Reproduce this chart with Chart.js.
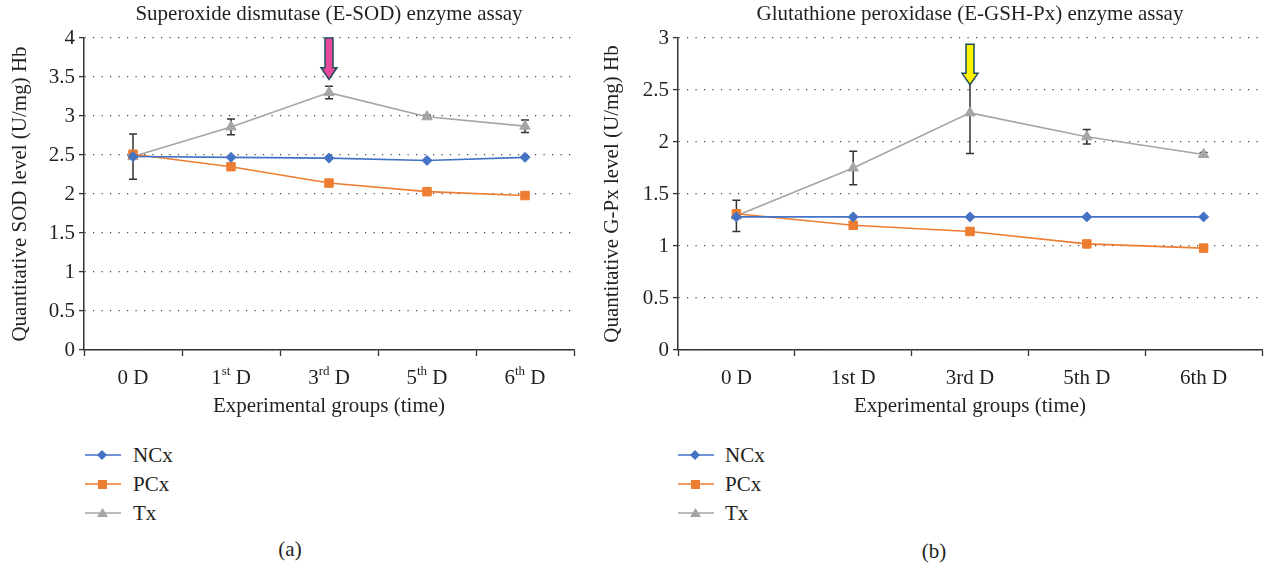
<!DOCTYPE html>
<html><head><meta charset="utf-8">
<script src="https://cdn.jsdelivr.net/npm/chart.js@4.4.1/dist/chart.umd.min.js"></script>
<style>
html,body{margin:0;padding:0;background:#fff;}
body{width:1269px;height:565px;position:relative;overflow:hidden;font-family:"Liberation Serif","DejaVu Serif",serif;color:#231f20;}
canvas{position:absolute;top:0;}
.lg{position:absolute;font-size:21px;line-height:24px;white-space:nowrap;}
.lg svg{position:absolute;top:5px;}
.lg span{position:absolute;top:0;}
.pn{position:absolute;font-size:21px;line-height:24px;transform:translateX(-50%);}
</style></head><body>
<canvas id="cA" width="600" height="430" style="left:0"></canvas>
<canvas id="cB" width="669" height="430" style="left:600px"></canvas>
<div id="legA"></div><div id="legB"></div>
<div class="pn" style="left:290px;top:537px">(a)</div>
<div class="pn" style="left:934px;top:539px">(b)</div>
<script>
// ---------- data ----------
const categories = ['0 D', '1st D', '3rd D', '5th D', '6th D'];
const seriesNames = ['NCx', 'PCx', 'Tx'];

// (a) Superoxide dismutase
const titleA = 'Superoxide dismutase (E-SOD) enzyme assay';
const yTitleA = 'Quantitative SOD level (U/mg) Hb';
const sodNCx = [2.48, 2.47, 2.46, 2.43, 2.47];
const sodPCx = [2.51, 2.35, 2.14, 2.03, 1.98];
const sodTx  = [2.48, 2.86, 3.30, 2.99, 2.87];
const sodTxErr = [0.29, 0.10, 0.08, 0.02, 0.08];
const sodArrow = {cat: 2, from: 4.0, head: 3.62, tip: 3.47};

// (b) Glutathione peroxidase
const titleB = 'Glutathione peroxidase (E-GSH-Px) enzyme assay';
const yTitleB = 'Quantitative G-Px level (U/mg) Hb';
const gpxNCx = [1.28, 1.28, 1.28, 1.28, 1.28];
const gpxPCx = [1.31, 1.20, 1.14, 1.02, 0.98];
const gpxTx  = [1.29, 1.75, 2.28, 2.05, 1.88];
const gpxTxErr = [0.15, 0.16, 0.39, 0.07, 0.02];
const gpxArrow = {cat: 2, from: 2.94, head: 2.66, tip: 2.55};

const xTitle = 'Experimental groups (time)';
// ---------- styles ----------
const colors = ['#4472C4', '#ED7D31', '#A5A5A5'];
const shapes = ['rectRot', 'rect', 'triangle'];
const radii = [5, 6, 6];
const FONT = '"Liberation Serif", "DejaVu Serif", serif';
const FS = 21;
const TXT = '#231f20';

const overlay = {
  id: 'overlay',
  beforeDatasetsDraw(chart, args, o) {
    const {ctx, scales: {x, y}} = chart;
    const data = chart.data.datasets[2].data;
    ctx.save();
    ctx.strokeStyle = '#333';
    ctx.lineWidth = 1.5;
    data.forEach((v, i) => {
      const e = o.err[i];
      if (!e) return;
      const px = x.getPixelForValue(i);
      const t = y.getPixelForValue(v + e), b = y.getPixelForValue(v - e);
      ctx.beginPath();
      ctx.moveTo(px, t); ctx.lineTo(px, b);
      ctx.moveTo(px - 4, t); ctx.lineTo(px + 4, t);
      ctx.moveTo(px - 4, b); ctx.lineTo(px + 4, b);
      ctx.stroke();
    });
    ctx.restore();
  },
  afterDatasetsDraw(chart, args, o) {
    const {ctx, scales: {x, y}} = chart;
    const a = o.arrow;
    const cx = x.getPixelForValue(a.cat);
    const y0 = y.getPixelForValue(a.from), yh = y.getPixelForValue(a.head), yt = y.getPixelForValue(a.tip);
    const s = o.shaft, h = o.headW;
    ctx.save();
    ctx.beginPath();
    ctx.moveTo(cx - s, y0); ctx.lineTo(cx + s, y0); ctx.lineTo(cx + s, yh);
    ctx.lineTo(cx + h, yh); ctx.lineTo(cx, yt); ctx.lineTo(cx - h, yh);
    ctx.lineTo(cx - s, yh); ctx.closePath();
    ctx.fillStyle = o.fill; ctx.fill();
    ctx.strokeStyle = '#1e4d5c'; ctx.lineWidth = 1.5; ctx.lineJoin = 'miter';
    ctx.stroke();
    ctx.restore();
  },
  afterDraw(chart, args, o) {
    const {ctx, chartArea, scales: {x}} = chart;
    ctx.save();
    ctx.fillStyle = TXT;
    ctx.textBaseline = 'middle';
    ctx.textAlign = 'center';
    ctx.font = FS + 'px ' + FONT;
    ctx.fillText(o.title, (chartArea.left + chartArea.right) / 2, 14);
    // x tick labels
    ctx.textAlign = 'left';
    chart.data.labels.forEach((lab, i) => {
      const px = x.getPixelForValue(i);
      const py = 378;
      const m = o.sup ? lab.match(/^(\d+)(st|nd|rd|th)(\s.*)$/) : null;
      let parts = m ? [[m[1], FS, 0], [m[2], 13, -6], [m[3], FS, 0]] : [[lab, FS, 0]];
      let w = 0;
      parts.forEach(p => { ctx.font = p[1] + 'px ' + FONT; p.push(ctx.measureText(p[0]).width); w += p[3]; });
      let cur = px - w / 2;
      parts.forEach(p => { ctx.font = p[1] + 'px ' + FONT; ctx.fillText(p[0], cur, py + p[2]); cur += p[3]; });
    });
    ctx.restore();
  }
};

function makeChart(id, vals, cfg) {
  const datasets = vals.map((d, i) => ({
    label: seriesNames[i], data: d,
    borderColor: colors[i], backgroundColor: colors[i],
    borderWidth: 1.6, pointStyle: shapes[i], pointRadius: radii[i],
    pointBorderWidth: 1, pointBorderColor: colors[i], tension: 0
  }));
  return new Chart(document.getElementById(id), {
    type: 'line',
    data: {labels: categories, datasets},
    options: {
      responsive: false, animation: false,
      layout: {padding: {left: 0, right: cfg.padRight, top: 38, bottom: 0}},
      plugins: {
        legend: {display: false}, tooltip: {enabled: false}, title: {display: false},
        overlay: {title: cfg.title, err: cfg.err, arrow: cfg.arrow, fill: cfg.fill, shaft: 4, headW: 8, sup: cfg.sup}
      },
      scales: {
        x: {
          offset: true,
          grid: {offset: true, drawOnChartArea: false, drawTicks: true, tickLength: 6, tickColor: '#333', tickWidth: 1.3},
          border: {display: true, color: '#333', width: 1.5},
          ticks: {display: false},
          title: {display: true, text: xTitle, color: TXT, font: {family: FONT, size: FS}, padding: {top: 0, bottom: 11}},
          afterFit: s => { s.height = 80; }
        },
        y: {
          min: 0, max: cfg.ymax,
          ticks: {stepSize: 0.5, color: TXT, font: {family: FONT, size: FS}, padding: 4, callback: v => String(+v.toFixed(2))},
          grid: {color: '#444', lineWidth: 1.2, tickColor: '#333', tickLength: 5, tickBorderDash: [], tickWidth: 1.3},
          border: {display: true, color: '#333', width: 1.5, dash: [1.2, 7.3]},
          title: {display: true, text: cfg.yTitle, color: TXT, font: {family: FONT, size: FS}, padding: {top: cfg.yTitlePad, bottom: 0}},
          afterFit: s => { s.width = cfg.yWidth; }
        }
      }
    },
    plugins: [overlay]
  });
}

makeChart('cA', [sodNCx, sodPCx, sodTx], {title: titleA, yTitle: yTitleA, err: sodTxErr, arrow: sodArrow, fill: '#E8489A', ymax: 4, padRight: 26, yWidth: 84, yTitlePad: 8, sup: true});
makeChart('cB', [gpxNCx, gpxPCx, gpxTx], {title: titleB, yTitle: yTitleB, err: gpxTxErr, arrow: gpxArrow, fill: '#FFF200', ymax: 3, padRight: 2, yWidth: 78, yTitlePad: 0, sup: false});

// ---------- legends ----------
function markerSvg(i) {
  const c = colors[i];
  let m;
  if (i === 0) m = `<polygon points="17,2 22,7 17,12 12,7" fill="${c}"/>`;
  else if (i === 1) m = `<rect x="13" y="3" width="9" height="9" fill="${c}"/>`;
  else m = `<polygon points="17.5,2 23,11 12,11" fill="${c}"/>`;
  return `<svg width="36" height="14" viewBox="0 0 36 14"><line x1="0" y1="7" x2="36" y2="7" stroke="${c}" stroke-width="1.6"/>${m}</svg>`;
}
function buildLegend(id, lineX, textX, rowsY) {
  const el = document.getElementById(id);
  seriesNames.forEach((n, i) => {
    const d = document.createElement('div');
    d.className = 'lg';
    d.style.left = lineX + 'px';
    d.style.top = (rowsY[i] - 12) + 'px';
    d.innerHTML = markerSvg(i) + `<span style="left:${textX - lineX}px">${n}</span>`;
    el.appendChild(d);
  });
}
buildLegend('legA', 85, 133, [455, 484, 513]);
buildLegend('legB', 678, 725, [455, 484, 513]);
</script>
</body></html>
